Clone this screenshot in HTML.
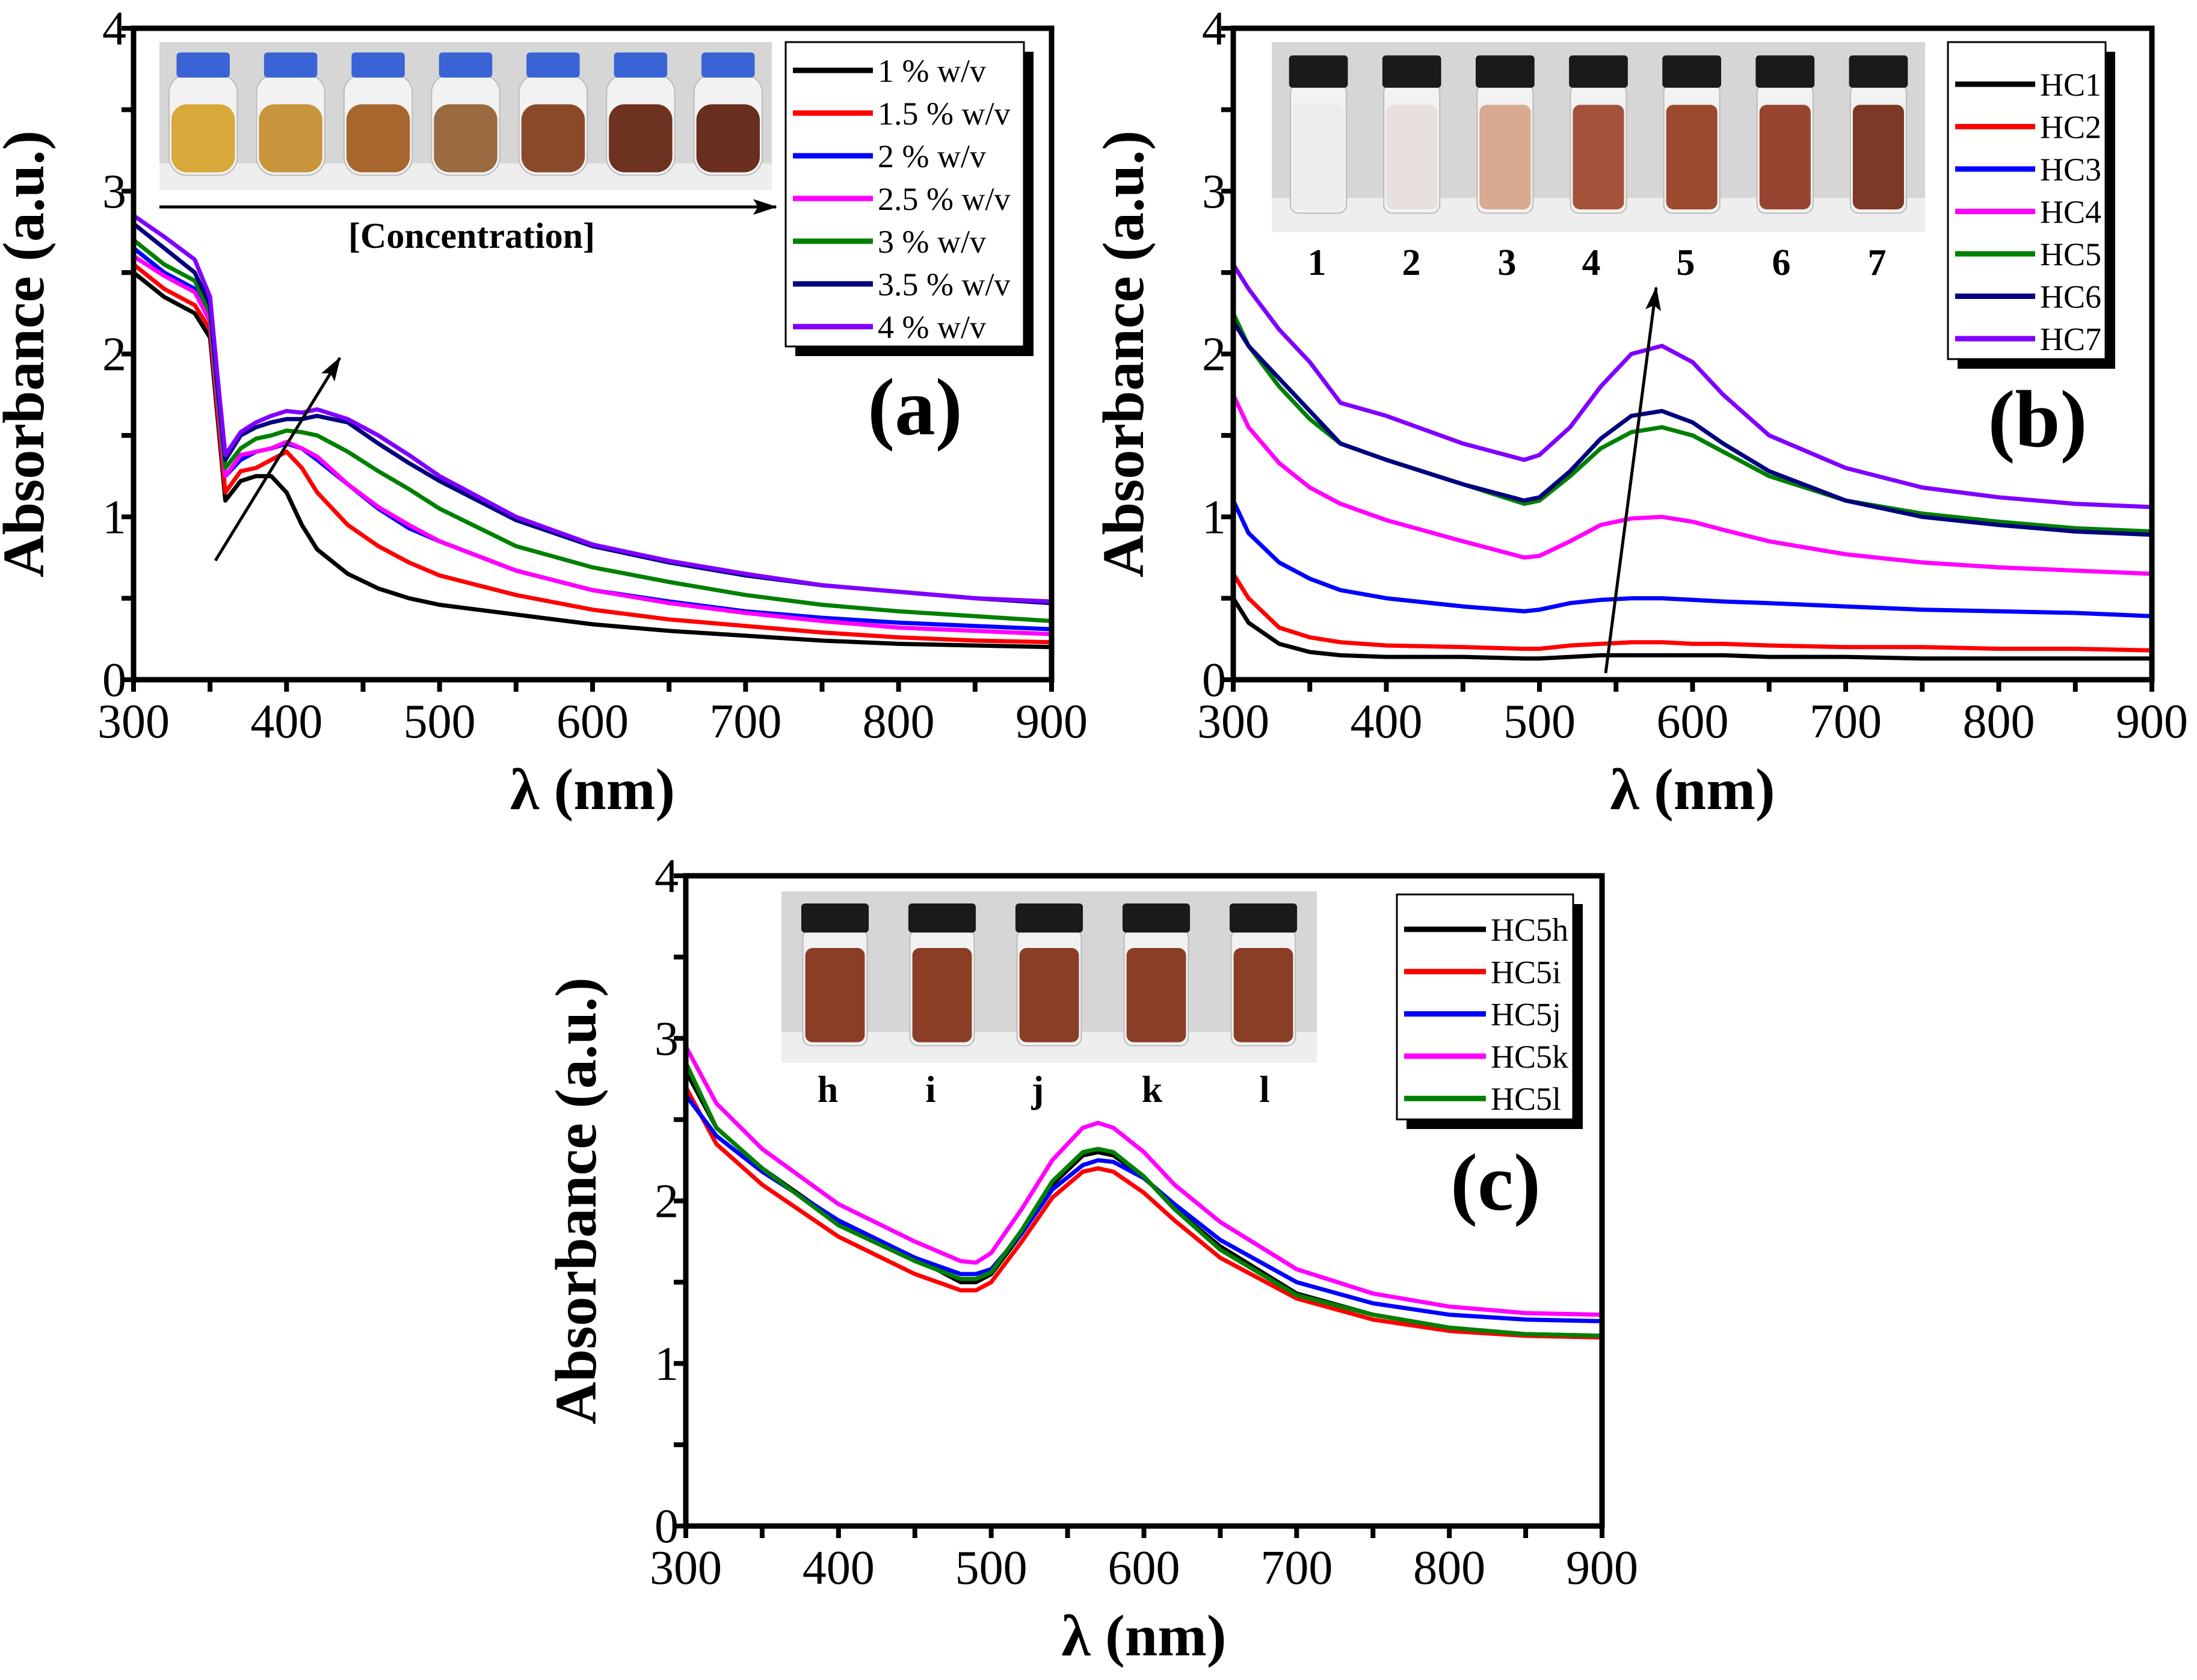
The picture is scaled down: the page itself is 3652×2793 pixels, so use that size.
<!DOCTYPE html>
<html><head><meta charset="utf-8">
<style>
html,body{margin:0;padding:0;background:#fff;}
svg{display:block;font-family:"Liberation Serif",serif;}
</style></head>
<body>
<svg id="fig" width="3652" height="2793" viewBox="0 0 3652 2793" xmlns="http://www.w3.org/2000/svg"></svg>
<script>
// ---------- Panel (a) data ----------
const waveA = [300,320,340,350,355,360,370,380,390,400,410,420,440,460,480,500,550,600,650,700,750,800,850,900];
const namesA = ["1 % w/v","1.5 % w/v","2 % w/v","2.5 % w/v","3 % w/v","3.5 % w/v","4 % w/v"];
const colorsA = ["#000000","#ff0000","#0000ff","#ff00ff","#008000","#000080","#8000ff"];
const a1 = [2.5,2.35,2.25,2.1,1.6,1.1,1.22,1.25,1.25,1.15,0.95,0.8,0.65,0.56,0.5,0.46,0.4,0.34,0.3,0.27,0.24,0.22,0.21,0.2];
const a15 = [2.55,2.4,2.3,2.15,1.65,1.15,1.28,1.3,1.35,1.4,1.3,1.15,0.95,0.82,0.72,0.64,0.52,0.43,0.37,0.33,0.29,0.26,0.24,0.23];
const a2 = [2.65,2.5,2.4,2.2,1.7,1.25,1.35,1.4,1.42,1.45,1.42,1.35,1.2,1.05,0.93,0.85,0.67,0.55,0.48,0.42,0.38,0.35,0.33,0.31];
const a25 = [2.6,2.48,2.38,2.2,1.7,1.25,1.38,1.4,1.42,1.46,1.42,1.37,1.2,1.06,0.95,0.85,0.67,0.55,0.47,0.41,0.36,0.32,0.3,0.28];
const a3 = [2.7,2.55,2.45,2.25,1.75,1.3,1.42,1.48,1.5,1.53,1.52,1.5,1.4,1.28,1.17,1.05,0.82,0.69,0.6,0.52,0.46,0.42,0.39,0.36];
const a35 = [2.8,2.65,2.5,2.3,1.8,1.35,1.5,1.55,1.58,1.6,1.6,1.62,1.58,1.45,1.33,1.22,0.98,0.82,0.72,0.64,0.58,0.54,0.5,0.47];
const a4 = [2.85,2.72,2.58,2.35,1.85,1.38,1.52,1.58,1.62,1.65,1.64,1.66,1.6,1.5,1.38,1.25,1.0,0.83,0.73,0.65,0.58,0.54,0.5,0.48];
// ---------- Panel (b) data ----------
const waveB = [300,310,330,350,370,400,450,490,500,520,540,560,580,600,620,650,700,750,800,850,900];
const namesB = ["HC1","HC2","HC3","HC4","HC5","HC6","HC7"];
const colorsB = ["#000000","#ff0000","#0000ff","#ff00ff","#008000","#000080","#8000ff"];
const hc1 = [0.5,0.35,0.22,0.17,0.15,0.14,0.14,0.13,0.13,0.14,0.15,0.15,0.15,0.15,0.15,0.14,0.14,0.13,0.13,0.13,0.13];
const hc2 = [0.65,0.5,0.32,0.26,0.23,0.21,0.2,0.19,0.19,0.21,0.22,0.23,0.23,0.22,0.22,0.21,0.2,0.2,0.19,0.19,0.18];
const hc3 = [1.1,0.9,0.72,0.62,0.55,0.5,0.45,0.42,0.43,0.47,0.49,0.5,0.5,0.49,0.48,0.47,0.45,0.43,0.42,0.41,0.39];
const hc4 = [1.75,1.55,1.33,1.18,1.08,0.98,0.85,0.75,0.76,0.85,0.95,0.99,1.0,0.97,0.92,0.85,0.77,0.72,0.69,0.67,0.65];
const hc5 = [2.25,2.05,1.8,1.6,1.45,1.35,1.2,1.08,1.1,1.25,1.42,1.52,1.55,1.5,1.4,1.25,1.1,1.02,0.97,0.93,0.91];
const hc6 = [2.2,2.05,1.85,1.65,1.45,1.35,1.2,1.1,1.12,1.28,1.48,1.62,1.65,1.58,1.45,1.28,1.1,1.0,0.95,0.91,0.89];
const hc7 = [2.55,2.4,2.15,1.95,1.7,1.62,1.45,1.35,1.38,1.55,1.8,2.0,2.05,1.95,1.75,1.5,1.3,1.18,1.12,1.08,1.06];
// ---------- Panel (c) data ----------
const waveC = [300,320,350,400,450,480,490,500,520,540,560,570,580,600,620,650,700,750,800,850,900];
const namesC = ["HC5h","HC5i","HC5j","HC5k","HC5l"];
const colorsC = ["#000000","#ff0000","#0000ff","#ff00ff","#008000"];
const h5h = [2.8,2.45,2.2,1.87,1.65,1.5,1.5,1.55,1.8,2.1,2.28,2.3,2.28,2.15,1.95,1.72,1.43,1.3,1.22,1.18,1.17];
const h5i = [2.7,2.35,2.1,1.78,1.55,1.45,1.45,1.5,1.75,2.02,2.18,2.2,2.18,2.05,1.88,1.65,1.4,1.27,1.2,1.17,1.16];
const h5j = [2.65,2.4,2.18,1.88,1.65,1.55,1.55,1.58,1.8,2.07,2.22,2.25,2.24,2.14,1.98,1.76,1.5,1.37,1.3,1.27,1.26];
const h5k = [2.95,2.6,2.32,1.98,1.75,1.63,1.62,1.68,1.95,2.25,2.45,2.48,2.45,2.3,2.1,1.87,1.58,1.43,1.35,1.31,1.3];
const h5l = [2.85,2.45,2.2,1.85,1.63,1.52,1.52,1.56,1.82,2.12,2.3,2.32,2.3,2.15,1.95,1.7,1.42,1.3,1.22,1.18,1.17];
const xTicks = [300,400,500,600,700,800,900];
const yTicks = [0,1,2,3,4];

const NS = "http://www.w3.org/2000/svg";
const fig = document.getElementById("fig");
function mk(tag, attrs, parent){
  const e = document.createElementNS(NS, tag);
  for (const k in attrs) e.setAttribute(k, attrs[k]);
  (parent||fig).appendChild(e);
  return e;
}
const defs = mk("defs",{});
defs.innerHTML = '<marker id="ah" markerWidth="40" markerHeight="26" refX="38" refY="13" orient="auto" markerUnits="userSpaceOnUse" viewBox="0 0 40 26"><path d="M0,0 L40,13 L0,26 L8,13 z" fill="#000"/></marker>';

function panel(cfg){
  const g = mk("g",{});
  
  
  const L=cfg.x0,R=cfg.x1,T=cfg.y0,B=cfg.y1;
  const xs = v => L + (v-300)/600*(R-L);
  const ys = v => B - v/4*(B-T);
  cfg.series.forEach((s,i)=>{
    let d="";
    cfg.wave.forEach((w,j)=>{ d += (j?"L":"M")+xs(w).toFixed(1)+","+ys(s[j]).toFixed(1); });
    const p = mk("path",{d:d,fill:"none",stroke:cfg.colors[i],"stroke-width":7,"stroke-linejoin":"round"},g);
    
    
  });
  const fr = mk("rect",{x:L,y:T,width:R-L,height:B-T,fill:"none",stroke:"#000","stroke-width":9},g);
  
  
  for(let v=300; v<=900; v+=50){
    mk("line",{x1:xs(v),x2:xs(v),y1:B,y2:B+20,stroke:"#000","stroke-width":8},g);
  }
  xTicks.forEach(v=>{
    const t = mk("text",{x:xs(v),y:B+96,"text-anchor":"middle","font-size":80},g);
    t.textContent=v;
    
    
  });
  for(let v=0; v<=4; v+=0.5){
    mk("line",{x1:L-20,x2:L,y1:ys(v),y2:ys(v),stroke:"#000","stroke-width":8},g);
  }
  yTicks.forEach(v=>{
    const t = mk("text",{x:L-12,y:ys(v)+27,"text-anchor":"end","font-size":80},g);
    t.textContent=v;
    
    
  });
  const yt = mk("text",{x:0,y:0,"text-anchor":"middle","font-size":98,"font-weight":"bold",transform:"translate("+(L-150)+","+((T+B)/2)+") rotate(-90)"},g);
  yt.textContent="Absorbance (a.u.)";
  
  
  const xt = mk("text",{x:(L+R)/2,y:B+215,"text-anchor":"middle","font-size":98,"font-weight":"bold"},g);
  xt.textContent="λ (nm)";
  
  
  const pl = mk("text",{x:cfg.lab[0],y:cfg.lab[1],"text-anchor":"middle","font-size":135,"font-weight":"bold"},g);
  pl.textContent=cfg.label;
  
  
  const lg = cfg.leg;
  mk("rect",{x:lg.x+16,y:lg.y+16,width:lg.w,height:lg.h,fill:"#000"},g);
  const lb = mk("rect",{x:lg.x,y:lg.y,width:lg.w,height:lg.h,fill:"#fff",stroke:"#000","stroke-width":3},g);
  
  
  cfg.names.forEach((n,i)=>{
    const yy = lg.y0 + i*lg.dy;
    const ln = mk("line",{x1:lg.x+12,x2:lg.x+lg.lw,y1:yy,y2:yy,stroke:cfg.colors[i],"stroke-width":9},g);
    
    
    const tx = mk("text",{x:lg.x+lg.lw+8,y:yy+19,"font-size":54},g);
    tx.textContent=n;
    
    
  });
  return g;
}

function vials(g, x, y, w, h, n, colors, capColor, bottle){
  const bg = mk("rect",{x:x,y:y,width:w,height:h,fill:"#d6d6d6"},g);
  
  
  mk("rect",{x:x,y:y+h*0.82,width:w,height:h*0.18,fill:"#eeeeee"},g);
  const step = w/n;
  for(let i=0;i<n;i++){
    const cx = x + step*(i+0.5);
    const bw = step*(bottle?0.78:0.6);
    mk("rect",{x:cx-bw/2,y:y+h*0.22,width:bw,height:h*0.68,rx:bottle?30:14,fill:"#f2f2f2",stroke:"#bbb","stroke-width":2},g);
    mk("rect",{x:cx-bw/2+4,y:y+h*(bottle?0.42:0.33),width:bw-8,height:h*(bottle?0.46:0.55),rx:bottle?26:12,fill:colors[i]},g);
    const cw = bottle? bw*0.78 : bw*1.05;
    mk("rect",{x:cx-cw/2,y:y+h*0.07,width:cw,height:h*0.17,rx:6,fill:capColor},g);
  }
}

const gA = panel({id:"panel-a",x0:222,x1:1748,y0:47,y1:1130,wave:waveA,series:[a1,a15,a2,a25,a3,a35,a4],names:namesA,colors:colorsA,label:"(a)",lab:[1521,722],
  leg:{x:1306,y:70,w:396,h:506,y0:117,dy:71,lw:145}});
const gB = panel({id:"panel-b",x0:2050,x1:3577,y0:47,y1:1130,wave:waveB,series:[hc1,hc2,hc3,hc4,hc5,hc6,hc7],names:namesB,colors:colorsB,label:"(b)",lab:[3387,742],
  leg:{x:3238,y:70,w:262,h:527,y0:140,dy:70.5,lw:145}});
const gC = panel({id:"panel-c",x0:1140,x1:2663,y0:1456,y1:2537,wave:waveC,series:[h5h,h5i,h5j,h5k,h5l],names:namesC,colors:colorsC,label:"(c)",lab:[2486,2011],
  leg:{x:2322,y:1487,w:293,h:374,y0:1545,dy:70.3,lw:148}});

vials(gA,265,70,1018,246,7,["#d8a83a","#c9953c","#a8662f","#9a6a40","#8a4a2a","#6e3220","#6a2e1e"],"#3a63d6",true);
const arA = mk("line",{x1:265,y1:344,x2:1290,y2:344,stroke:"#000","stroke-width":5,"marker-end":"url(#ah)"},gA);


const ct = mk("text",{x:784,y:412,"text-anchor":"middle","font-size":60,"font-weight":"bold"},gA);
ct.textContent="[Concentration]";


const tA = mk("line",{x1:358,y1:932,x2:565,y2:595,stroke:"#000","stroke-width":5,"marker-end":"url(#ah)"},gA);



vials(gB,2114,70,1086,316,7,["#ececec","#e8e0dc","#d9aa90","#a4533a","#9c4a2e","#964530","#7e3826"],"#1a1a1a",false);
const labB = ["1","2","3","4","5","6","7"];
const labBx = [2189,2346,2505,2645,2802,2961,3120];
labB.forEach((s,i)=>{
  const t = mk("text",{x:labBx[i],y:457,"text-anchor":"middle","font-size":62,"font-weight":"bold"},gB);
  t.textContent=s;
  
  
});
const tB = mk("line",{x1:2669,y1:1119,x2:2753,y2:478,stroke:"#000","stroke-width":5,"marker-end":"url(#ah)"},gB);



vials(gC,1299,1482,890,285,5,["#8a3e26","#8a3e26","#8a3e26","#8a3e26","#8a3e26"],"#1a1a1a",false);
const labC = ["h","i","j","k","l"];
const labCx = [1376,1547,1725,1915,2102];
labC.forEach((s,i)=>{
  const t = mk("text",{x:labCx[i],y:1832,"text-anchor":"middle","font-size":62,"font-weight":"bold"},gC);
  t.textContent=s;
  
  
});
</script>
</body></html>
